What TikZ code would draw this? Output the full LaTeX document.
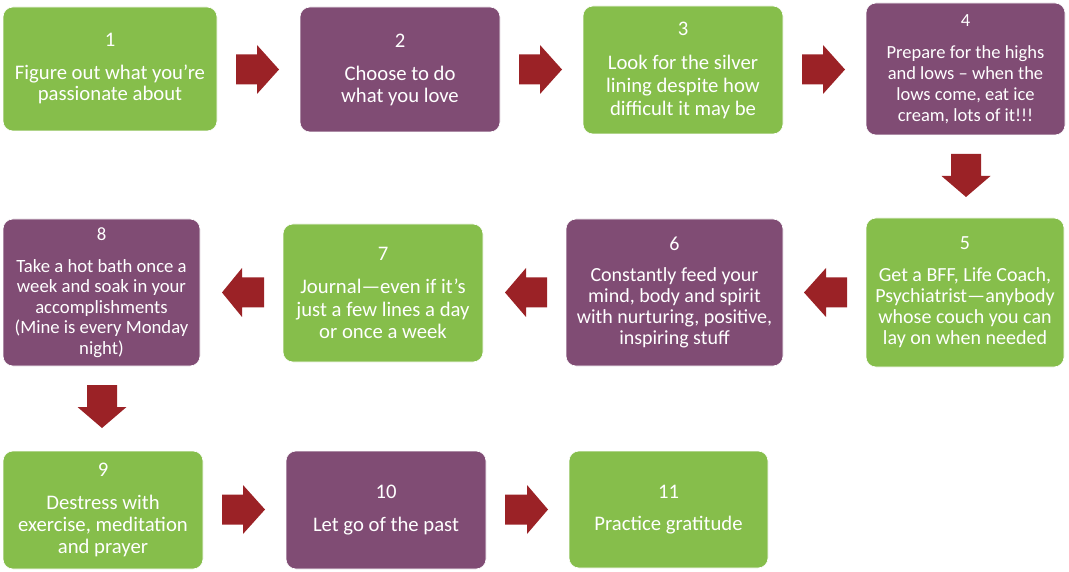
\documentclass[tikz,border=0pt]{standalone}
\usepackage{fontspec}
\setmainfont{Carlito}
\definecolor{boxgreen}{HTML}{86BE4B}
\definecolor{boxpurple}{HTML}{804C74}
\definecolor{arrowred}{HTML}{9B2226}
\tikzset{
  stepbox/.style={rectangle, rounded corners=10pt, inner sep=0pt, align=center, text=white, draw=white, line width=0.6pt},
  gbox/.style={stepbox, fill=boxgreen},
  pbox/.style={stepbox, fill=boxpurple},
  fsz/.style 2 args={font={\fontsize{#1}{#2}\selectfont}},
  blockarrow/.style={fill=arrowred}
}
% right/left block arrow: start x, head-base x, tip x, centre y
\newcommand\harrow[4]{\fill[blockarrow] (#1,#4-15) -- (#2,#4-15) -- (#2,#4-24.5) -- (#3,#4) -- (#2,#4+24.5) -- (#2,#4+15) -- (#1,#4+15) -- cycle;}
% down block arrow: centre x, top y, head-base y, tip y
\newcommand\varrow[4]{\fill[blockarrow] (#1-15,#2) -- (#1+15,#2) -- (#1+15,#3) -- (#1+24.5,#3) -- (#1,#4) -- (#1-24.5,#3) -- (#1-15,#3) -- cycle;}
\begin{document}
\begin{tikzpicture}[x=1pt,y=-1pt]
\useasboundingbox (0,0) rectangle (1069,572);
% row 1
\node[gbox, fsz={20.7}{21}, minimum width=214, minimum height=124] (b1) at (110,69)
  {1\\[12pt]Figure out what you’re\\passionate about};
\node[pbox, fsz={20.7}{22}, minimum width=200, minimum height=125] (b2) at (400,69.5)
  {2\\[11pt]Choose to do\\what you love};
\node[gbox, fsz={20.7}{23}, minimum width=200, minimum height=128] (b3) at (683,70)
  {3\\[11pt]Look for the silver\\lining despite how\\difficult it may be};
\node[pbox, fsz={18.5}{21}, minimum width=199, minimum height=132] (b4) at (965.5,69)
  {4\\[11pt]Prepare for the highs\\and lows – when the\\lows come, eat ice\\cream, lots of it!!!};
% row 2
\node[gbox, fsz={20}{21}, minimum width=198, minimum height=149] (b5) at (965,292.5)
  {5\\[11pt]Get a BFF, Life Coach,\\Psychiatrist—anybody\\whose couch you can\\lay on when needed};
\node[pbox, fsz={20}{21}, minimum width=217, minimum height=147] (b6) at (674.5,292.5)
  {6\\[10pt]Constantly feed your\\mind, body and spirit\\with nurturing, positive,\\inspiring stuff};
\node[gbox, fsz={20.7}{22.5}, minimum width=200, minimum height=138] (b7) at (383,293)
  {7\\[10.5pt]Journal—even if it’s\\just a few lines a day\\or once a week};
\node[pbox, fsz={18.7}{20.5}, minimum width=197, minimum height=147] (b8) at (101.5,292.5)
  {8\\[11.5pt]Take a hot bath once a\\week and soak in your\\accomplishments\\(Mine is every Monday\\night)};
% row 3
\node[gbox, fsz={20.7}{22}, minimum width=200, minimum height=118] (b9) at (103,510)
  {9\\[11pt]Destress with\\exercise, meditation\\and prayer};
\node[pbox, fsz={20.7}{22}, minimum width=200, minimum height=118] (b10) at (386,510)
  {10\\[11pt]Let go of the past};
\node[gbox, fsz={20.7}{22}, minimum width=199, minimum height=117] (b11) at (668.5,509.5)
  {11\\[10pt]Practice gratitude};
% block arrows
\harrow{236}{257}{279}{69.5}
\harrow{519}{540}{562}{69.5}
\harrow{802}{823}{845}{69.5}
\varrow{966}{154}{176}{197}
\harrow{847}{826}{804}{292.5}
\harrow{547}{526}{505}{292.5}
\harrow{264}{242}{222}{292.5}
\varrow{102}{385}{407}{428}
\harrow{222}{243}{265}{509.5}
\harrow{505}{527}{548}{509.5}
\end{tikzpicture}
\end{document}
